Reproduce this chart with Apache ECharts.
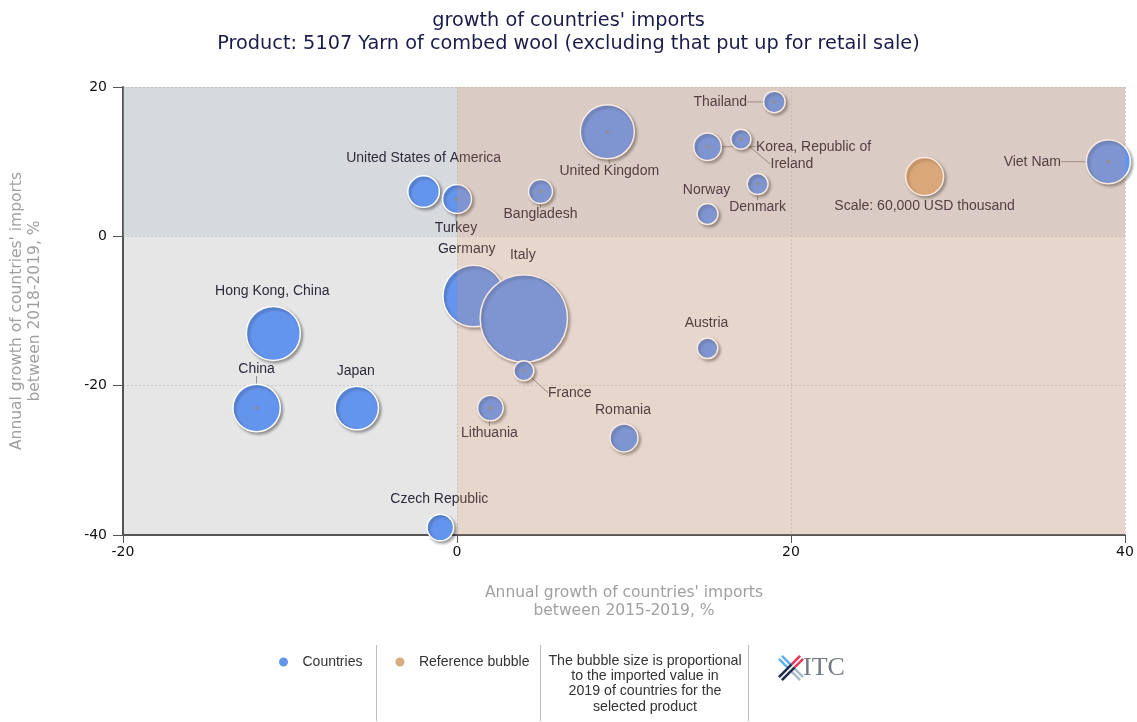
<!DOCTYPE html>
<html>
<head>
<meta charset="utf-8">
<script src="https://cdn.jsdelivr.net/npm/echarts@6/dist/echarts.min.js"></script>
<style>
html,body{margin:0;padding:0;background:#fff;}
#chart{width:1137px;height:722px;}
</style>
</head>
<body>
<div id="chart"></div>
<script>
// ---- data ----
const countries = ['Thailand','United Kingdom','Korea, Republic of','Ireland','Viet Nam','Denmark','Norway','Bangladesh','United States of America','Turkey','Germany','Italy','France','Lithuania','Romania','Austria','Hong Kong, China','China','Japan','Czech Republic'];
const growth2015_2019 = [19, 9, 15, 17, 39, 18, 15, 5, -2, 0, 1, 4, 4, 2, 10, 15, -11, -12, -6, -1];
const growth2018_2019 = [18, 14, 12, 13, 10, 7, 3, 6, 6, 5, -8, -11, -18, -23, -27, -15, -13, -23, -23, -39];
const imports2019 = [19400, 121200, 31700, 16600, 80400, 18300, 18300, 23900, 41500, 34900, 157700, 317000, 16600, 27200, 32600, 17600, 121200, 93400, 78300, 29400];
const refBubble = {name: 'Scale: 60,000 USD thousand', x: 28, y: 8, value: 60000};
const xTicks = [-20, 0, 20, 40];
const yTicks = [-40, -20, 0, 20];

// ---- label placement (px offsets from bubble centre, show connector) ----
const labelPlace = {
  'Thailand': [-54, 0, true],
  'United Kingdom': [2, 39, true],
  'Korea, Republic of': [106, 0, true],
  'Ireland': [51, 25, true],
  'Viet Nam': [-76, 0, true],
  'Denmark': [0, 23, true],
  'Norway': [-1, -24, false],
  'Bangladesh': [0, 23, true],
  'United States of America': [0, -33, false],
  'Turkey': [-1, 29, true],
  'Germany': [-7, -47, false],
  'Italy': [-1, -63, false],
  'France': [46, 22, true],
  'Lithuania': [-1, 25, true],
  'Romania': [-1, -28, false],
  'Austria': [-1, -25, false],
  'Hong Kong, China': [-1, -42, false],
  'China': [0, -39, true],
  'Japan': [-1, -37, false],
  'Czech Republic': [-1, -28, false],
  'Scale: 60,000 USD thousand': [0, 30, false]
};

const REF_DIAM = 38;
function diam(v){ return REF_DIAM * Math.sqrt(v / refBubble.value); }

const countryData = countries.map((n, i) => ({
  name: n,
  value: [growth2015_2019[i], growth2018_2019[i], imports2019[i]],
  labelLine: {show: labelPlace[n][2]}
}));
const dotData = countries.map((n, i) => labelPlace[n][2] ? [growth2015_2019[i], growth2018_2019[i]] : null).filter(d => d);

const labelFont = {fontFamily: 'Liberation Sans, Arial, sans-serif', fontSize: 14, color: '#2e2a3a'};
const bubbleStyle = {
  borderColor: '#ffffff', borderWidth: 1.5,
  shadowColor: 'rgba(0,0,0,0.35)', shadowBlur: 3, shadowOffsetX: 2, shadowOffsetY: 2,
  opacity: 1
};

// ---- ITC logo polygons ----
function stripe(cx, cy, dx, dy, s0, s1, off, w, fill){
  const px = -dy, py = dx;
  const pts = [
    [cx + dx*s0 + px*(off - w/2), cy + dy*s0 + py*(off - w/2)],
    [cx + dx*s1 + px*(off - w/2), cy + dy*s1 + py*(off - w/2)],
    [cx + dx*s1 + px*(off + w/2), cy + dy*s1 + py*(off + w/2)],
    [cx + dx*s0 + px*(off + w/2), cy + dy*s0 + py*(off + w/2)]
  ];
  return {type: 'polygon', shape: {points: pts}, style: {fill: fill}};
}
const r2 = Math.SQRT1_2;
const logoParts = [];
[[-r2, -r2, 3, 15, '#62b0e3'], [r2, r2, 3, 15, '#a9bccf'], [r2, -r2, 3, 15, '#e23a5c'], [-r2, r2, -3, 15, '#1d2c4f']].forEach(a => {
  logoParts.push(stripe(12, 15, a[0], a[1], a[2], a[3], -2.1, 2.6, a[4]));
  logoParts.push(stripe(12, 15, a[0], a[1], a[2], a[3], 2.1, 2.6, a[4]));
});
logoParts.push({type: 'text', x: 24, y: 15, style: {text: 'ITC', fontFamily: 'Liberation Serif, DejaVu Serif, serif', fontSize: 26, fill: '#737a83', verticalAlign: 'middle'}});

const chart = echarts.init(document.getElementById('chart'), null, {renderer: 'canvas'});
const option = {
  animation: false,
  backgroundColor: '#ffffff',
  title: {
    text: "growth of countries' imports\nProduct: 5107 Yarn of combed wool (excluding that put up for retail sale)",
    left: 'center', top: 4,
    textStyle: {fontFamily: 'DejaVu Sans, sans-serif', fontSize: 19.3, fontWeight: 'normal', color: '#1c1c4a', lineHeight: 23}
  },
  grid: {left: 122, right: 12, top: 87, bottom: 187, show: true, backgroundColor: '#e6e6e6', borderWidth: 0},
  legend: {
    data: ['Countries', 'Reference bubble'],
    left: 272, top: 650, icon: 'circle', itemWidth: 28, itemHeight: 11, itemGap: 31,
    textStyle: {fontFamily: 'Liberation Sans, Arial, sans-serif', fontSize: 14, color: '#333'}
  },
  xAxis: {
    type: 'value', min: -20, max: 40, interval: 20,
    name: "Annual growth of countries' imports\nbetween 2015-2019, %",
    nameLocation: 'middle', nameGap: 49,
    nameTextStyle: {fontFamily: 'DejaVu Sans, sans-serif', fontSize: 15.5, color: '#a0a0a0', lineHeight: 18},
    axisLine: {show: true, onZero: false, lineStyle: {color: '#555', width: 2}},
    axisTick: {show: true, length: 8, lineStyle: {color: '#555'}},
    axisLabel: {fontFamily: 'DejaVu Sans, sans-serif', fontSize: 14, color: '#111', margin: 10,
      formatter: v => xTicks.includes(v) ? String(v) : ''},
    splitLine: {show: true, lineStyle: {color: 'rgba(190,190,190,0.7)', type: [2, 2]}}
  },
  yAxis: {
    type: 'value', min: -40, max: 20, interval: 20,
    name: "Annual growth of countries' imports\nbetween 2018-2019, %",
    nameLocation: 'middle', nameGap: 79,
    nameTextStyle: {fontFamily: 'DejaVu Sans, sans-serif', fontSize: 15.5, color: '#a0a0a0', lineHeight: 18},
    axisLine: {show: true, onZero: false, lineStyle: {color: '#555', width: 2}},
    axisTick: {show: true, length: 10, lineStyle: {color: '#555'}},
    axisLabel: {fontFamily: 'DejaVu Sans, sans-serif', fontSize: 14, color: '#111', margin: 16,
      formatter: v => yTicks.includes(v) ? String(v) : ''},
    splitLine: {show: true, lineStyle: {color: 'rgba(190,190,190,0.7)', type: [2, 2]}}
  },
  series: [
    {
      name: 'bg', type: 'scatter', data: [], z: 1, silent: true,
      markArea: {silent: true, z: 1, itemStyle: {color: 'rgba(170,182,194,0.25)'},
        data: [[{coord: [-20, 0]}, {coord: [40, 20]}]]}
    },
    {
      name: 'Countries', type: 'scatter', z: 3,
      data: countryData,
      symbolSize: v => diam(v[2]),
      itemStyle: Object.assign({color: '#6495ED'}, bubbleStyle),
      label: Object.assign({show: true, position: 'inside', formatter: p => p.name}, labelFont),
      labelLine: {show: true, lineStyle: {color: '#8a8a8a', width: 1}},
      labelLayout: p => {
        const pl = labelPlace[countries[p.dataIndex]];
        return {dx: pl[0], dy: pl[1]};
      }
    },
    {
      name: 'Reference bubble', type: 'scatter', z: 3,
      data: [{name: refBubble.name, value: [refBubble.x, refBubble.y, refBubble.value]}],
      symbolSize: v => diam(v[2]),
      itemStyle: Object.assign({color: '#d8ac7e'}, bubbleStyle),
      label: Object.assign({show: true, position: 'inside', formatter: p => p.name}, labelFont),
      labelLayout: p => ({dx: labelPlace[refBubble.name][0], dy: labelPlace[refBubble.name][1]})
    },
    {
      name: 'dots', type: 'scatter', z: 4, silent: true,
      data: dotData, symbolSize: 4, itemStyle: {color: '#8a8a8a'}
    },
    {
      name: 'overlay', type: 'scatter', data: [], z: 10, silent: true,
      markArea: {silent: true, z: 10, itemStyle: {color: 'rgba(230,150,100,0.2)'},
        data: [[{coord: [0, -40]}, {coord: [40, 20]}]]}
    }
  ],
  graphic: [
    {type: 'line', shape: {x1: 376.5, y1: 645, x2: 376.5, y2: 721}, style: {stroke: '#bdbdbd', lineWidth: 1}},
    {type: 'line', shape: {x1: 540.5, y1: 645, x2: 540.5, y2: 721}, style: {stroke: '#bdbdbd', lineWidth: 1}},
    {type: 'line', shape: {x1: 748.5, y1: 645, x2: 748.5, y2: 721}, style: {stroke: '#bdbdbd', lineWidth: 1}},
    {type: 'text', x: 645, y: 653, style: {
      text: 'The bubble size is proportional\nto the imported value in\n2019 of countries for the\nselected product',
      align: 'center', fontFamily: 'Liberation Sans, Arial, sans-serif', fontSize: 14.2, lineHeight: 15.4, fill: '#333'}},
    {type: 'group', x: 779, y: 653, children: logoParts}
  ]
};
chart.setOption(option);
</script>
</body>
</html>
